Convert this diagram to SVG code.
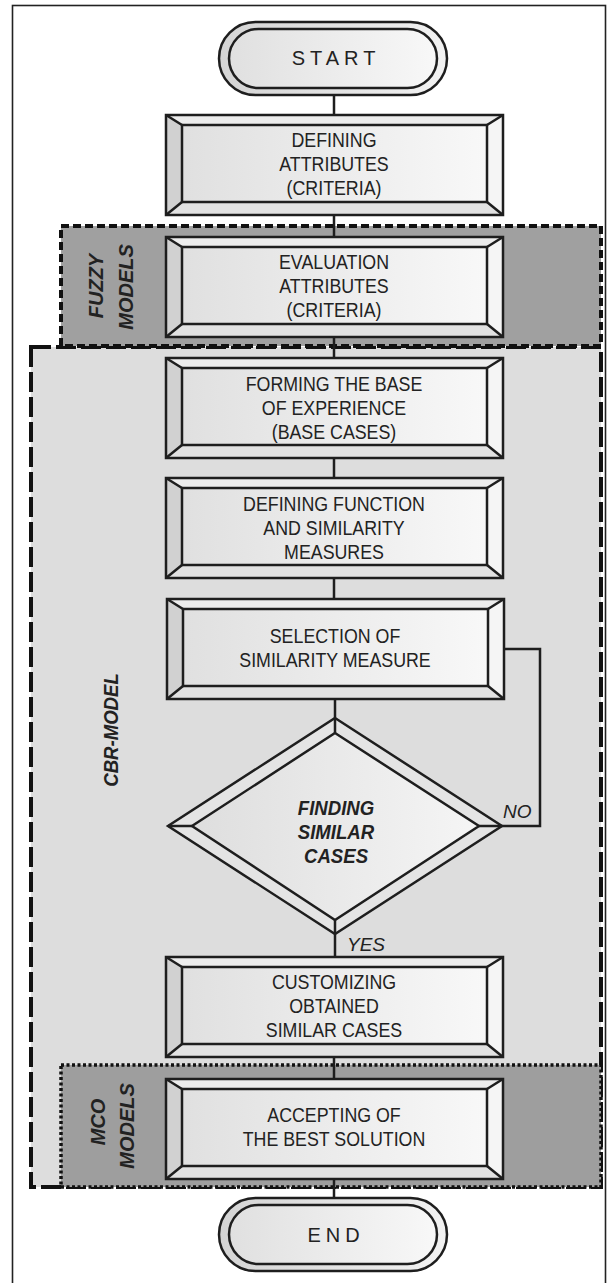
<svg xmlns="http://www.w3.org/2000/svg" width="616" height="1283" viewBox="0 0 616 1283">
<style>
.t{font-family:'Liberation Sans',Arial,sans-serif;font-size:20px;fill:#222;text-anchor:middle}
.term{font-family:'Liberation Sans',Arial,sans-serif;font-size:20px;fill:#222;text-anchor:middle;letter-spacing:5px}
.lbl{font-family:'Liberation Sans',Arial,sans-serif;font-weight:bold;font-style:italic;font-size:20px;fill:#222;text-anchor:middle}
.yn{font-family:'Liberation Sans',Arial,sans-serif;font-style:italic;font-size:19px;fill:#222}
.ln{stroke:#1e1e1e;stroke-width:2.5;fill:none}
.ed{stroke:#1e1e1e;stroke-width:2.5;stroke-linejoin:miter}
</style>
<defs>
<linearGradient id="face" x1="0" y1="0" x2="1" y2="0">
<stop offset="0" stop-color="#e0e0e0"/><stop offset="1" stop-color="#f8f8f8"/>
</linearGradient>
<linearGradient id="pillg" x1="0" y1="0" x2="1" y2="0">
<stop offset="0" stop-color="#d4d4d4"/><stop offset="1" stop-color="#f2f2f2"/>
</linearGradient>
<linearGradient id="dface" x1="0" y1="0" x2="1" y2="0">
<stop offset="0" stop-color="#dedede"/><stop offset="1" stop-color="#f5f5f5"/>
</linearGradient>
<g id="box-shape">
<polygon points="0,0 337,0 321,10 16,10" fill="#ececec"/>
<polygon points="0,100 16,87 321,87 337,100" fill="#e2e2e2"/>
<polygon points="0,0 16,10 16,87 0,100" fill="#d1d1d1"/>
<polygon points="337,0 337,100 321,87 321,10" fill="#f5f5f5"/>
<rect x="16" y="10" width="305" height="77" fill="url(#face)" class="ed"/>
<path d="M0,0 L16,10 M337,0 L321,10 M0,100 L16,87 M337,100 L321,87" fill="none" class="ed"/>
<rect x="0" y="0" width="337" height="100" fill="none" class="ed" stroke-width="3"/>
</g>
<g id="pill-shape">
<rect x="0" y="0" width="228" height="73" rx="36.5" ry="36.5" fill="url(#pillg)" class="ed" stroke-width="3"/>
<rect x="10" y="7" width="208" height="59" rx="29.5" ry="29.5" fill="url(#face)" class="ed"/>
</g>
</defs>
<rect x="0" y="0" width="616" height="1283" fill="#ffffff"/>
<rect x="12.5" y="5.5" width="593" height="1290" fill="none" stroke="#222" stroke-width="1.6"/>

<g id="regions">
<g id="cbr-model">
<rect x="31" y="347" width="570" height="840" fill="#dddddd" stroke="#111" stroke-width="4" stroke-dasharray="20 5"/>
<text class="lbl" font-size="22" transform="translate(118,730) rotate(-90) scale(0.93,1)">CBR-MODEL</text>
</g>
<g id="fuzzy-models">
<rect x="61" y="226" width="540" height="120" fill="#a0a0a0" stroke="#111" stroke-width="4" stroke-dasharray="8 4"/>
<text class="lbl" transform="translate(103,286) rotate(-90)">FUZZY</text>
<text class="lbl" transform="translate(133,287) rotate(-90)">MODELS</text>
</g>
<g id="mco-models">
<rect x="61" y="1065" width="540" height="122" fill="#9e9e9e" stroke="#111" stroke-width="3.5" stroke-dasharray="3 2.5"/>
<text class="lbl" transform="translate(105,1122) rotate(-90)">MCO</text>
<text class="lbl" transform="translate(134,1126) rotate(-90)">MODELS</text>
</g>
</g>

<g id="connectors">
<line x1="334" y1="95" x2="334" y2="115" class="ln"/>
<line x1="334" y1="215" x2="334" y2="237" class="ln"/>
<line x1="334" y1="337" x2="334" y2="358" class="ln"/>
<line x1="334" y1="458" x2="334" y2="478" class="ln"/>
<line x1="334" y1="578" x2="334" y2="599" class="ln"/>
<line x1="335" y1="699" x2="335" y2="718" class="ln"/>
<line x1="335" y1="934" x2="335" y2="957" class="ln"/>
<line x1="334" y1="1057" x2="334" y2="1079" class="ln"/>
<line x1="334" y1="1179" x2="334" y2="1198" class="ln"/>
<polyline points="503,649 540,649 540,826 502,826" class="ln"/>
<text class="yn" x="503" y="818">NO</text>
<text class="yn" x="347" y="951">YES</text>
</g>

<g id="start">
<use href="#pill-shape" x="219" y="22"/>
<text class="term" x="336" y="65">START</text>
</g>

<g id="defining-attributes">
<use href="#box-shape" x="166" y="115"/>
<text class="t" transform="matrix(0.89 0 0 1 334 147)">DEFINING</text>
<text class="t" transform="matrix(0.89 0 0 1 334 171)">ATTRIBUTES</text>
<text class="t" transform="matrix(0.89 0 0 1 334 195)">(CRITERIA)</text>
</g>

<g id="evaluation-attributes">
<use href="#box-shape" x="166" y="237"/>
<text class="t" transform="matrix(0.89 0 0 1 334 269)">EVALUATION</text>
<text class="t" transform="matrix(0.89 0 0 1 334 293)">ATTRIBUTES</text>
<text class="t" transform="matrix(0.89 0 0 1 334 317)">(CRITERIA)</text>
</g>

<g id="forming-base">
<use href="#box-shape" x="166" y="358"/>
<text class="t" transform="matrix(0.89 0 0 1 334 391)">FORMING THE BASE</text>
<text class="t" transform="matrix(0.89 0 0 1 334 415)">OF EXPERIENCE</text>
<text class="t" transform="matrix(0.89 0 0 1 334 439)">(BASE CASES)</text>
</g>

<g id="defining-function">
<use href="#box-shape" x="166" y="478"/>
<text class="t" transform="matrix(0.89 0 0 1 334 511)">DEFINING FUNCTION</text>
<text class="t" transform="matrix(0.89 0 0 1 334 535)">AND SIMILARITY</text>
<text class="t" transform="matrix(0.89 0 0 1 334 559)">MEASURES</text>
</g>

<g id="selection">
<use href="#box-shape" x="167" y="599"/>
<text class="t" transform="matrix(0.89 0 0 1 335 643)">SELECTION OF</text>
<text class="t" transform="matrix(0.89 0 0 1 335 667)">SIMILARITY MEASURE</text>
</g>

<g id="finding-similar">
<polygon points="335,718 502,826 335,934 168,826" fill="#e4e4e4" class="ed" stroke-width="3"/>
<polygon points="335,733 479,826 335,920 192,826" fill="url(#dface)" class="ed"/>
<path d="M335,718 L335,733 M502,826 L479,826 M335,934 L335,920 M168,826 L192,826" fill="none" class="ed"/>
<text class="lbl" transform="matrix(0.93 0 0 1 336 815)">FINDING</text>
<text class="lbl" transform="matrix(0.93 0 0 1 336 839)">SIMILAR</text>
<text class="lbl" transform="matrix(0.93 0 0 1 336 863)">CASES</text>
</g>

<g id="customizing">
<use href="#box-shape" x="166" y="957"/>
<text class="t" transform="matrix(0.89 0 0 1 334 989)">CUSTOMIZING</text>
<text class="t" transform="matrix(0.89 0 0 1 334 1013)">OBTAINED</text>
<text class="t" transform="matrix(0.89 0 0 1 334 1037)">SIMILAR CASES</text>
</g>

<g id="accepting">
<use href="#box-shape" x="166" y="1079"/>
<text class="t" transform="matrix(0.89 0 0 1 334 1122)">ACCEPTING OF</text>
<text class="t" transform="matrix(0.89 0 0 1 334 1146)">THE BEST SOLUTION</text>
</g>

<g id="end">
<use href="#pill-shape" x="219" y="1198"/>
<text class="term" x="336" y="1242">END</text>
</g>
</svg>
